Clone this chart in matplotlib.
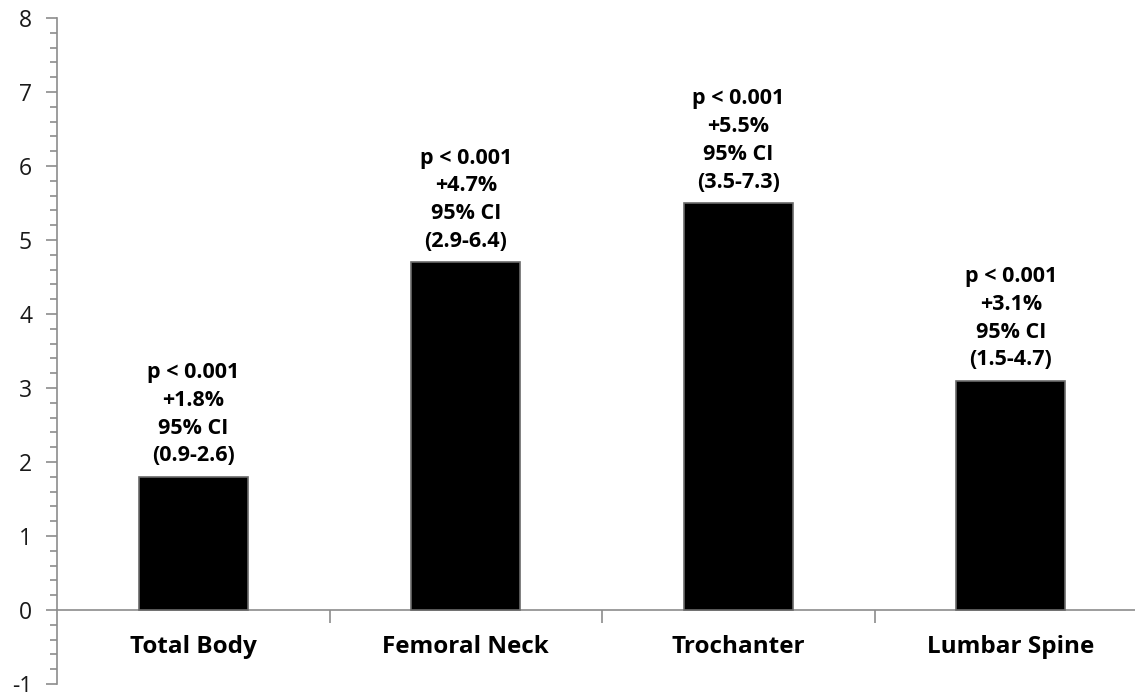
import matplotlib
matplotlib.use("Agg")
from matplotlib import pyplot as plt
from matplotlib.ticker import MultipleLocator, FixedLocator

sites = ["Total Body", "Femoral Neck", "Trochanter", "Lumbar Spine"]
change = [1.8, 4.7, 5.5, 3.1]
p_text = ["p < 0.001", "p < 0.001", "p < 0.001", "p < 0.001"]
ci_text = ["(0.9-2.6)", "(2.9-6.4)", "(3.5-7.3)", "(1.5-4.7)"]

plt.rcParams['font.family'] = ['Open Sans', 'DejaVu Sans']
plt.rcParams['axes.unicode_minus'] = False

W, H = 1135, 692
fig = plt.figure(figsize=(W / 100, H / 100), dpi=100)
# axis runs from x=57 to ~1147 px (cut by the image edge), y from -1 (684px) to 8 (18px)
ax = fig.add_axes([57 / W, (H - 684) / H, 1090 / W, 666 / H])

x = list(range(len(sites)))
ax.bar(x, change, width=0.4, color="black", edgecolor="#6a6a6a", linewidth=1.2, zorder=3)

for i, v in enumerate(change):
    label = "%s\n+%.1f%%\n95%% CI\n%s" % (p_text[i], v, ci_text[i])
    ax.text(i, v + 0.14, label, ha="center", va="bottom", fontsize=15.5,
            fontweight="bold", linespacing=1.42)

ax.set_xlim(-0.5, 3.5)
ax.set_ylim(-1, 8)

gray = "#8c8c8c"
for s in ["top", "right"]:
    ax.spines[s].set_visible(False)
ax.spines["left"].set_color(gray)
ax.spines["bottom"].set_color(gray)
ax.spines["bottom"].set_position(("data", 0))
ax.spines["left"].set_linewidth(1.2)
ax.spines["bottom"].set_linewidth(1.2)

ax.yaxis.set_major_locator(MultipleLocator(1))
ax.yaxis.set_minor_locator(MultipleLocator(0.2))
ax.tick_params(axis="y", which="major", length=8, color=gray, width=1.2,
               labelsize=16.5, pad=10, labelcolor="#1a1a1a")
ax.tick_params(axis="y", which="minor", length=5, color=gray, width=1.2)

ax.set_xticks(x)
ax.set_xticklabels(sites, fontsize=17.5, fontweight="bold")
ax.xaxis.set_minor_locator(FixedLocator([0.5, 1.5, 2.5]))
ax.tick_params(axis="x", which="major", length=0, pad=18)
ax.tick_params(axis="x", which="minor", length=9, color=gray, width=1.2)

fig.savefig("out.png", dpi=100)
